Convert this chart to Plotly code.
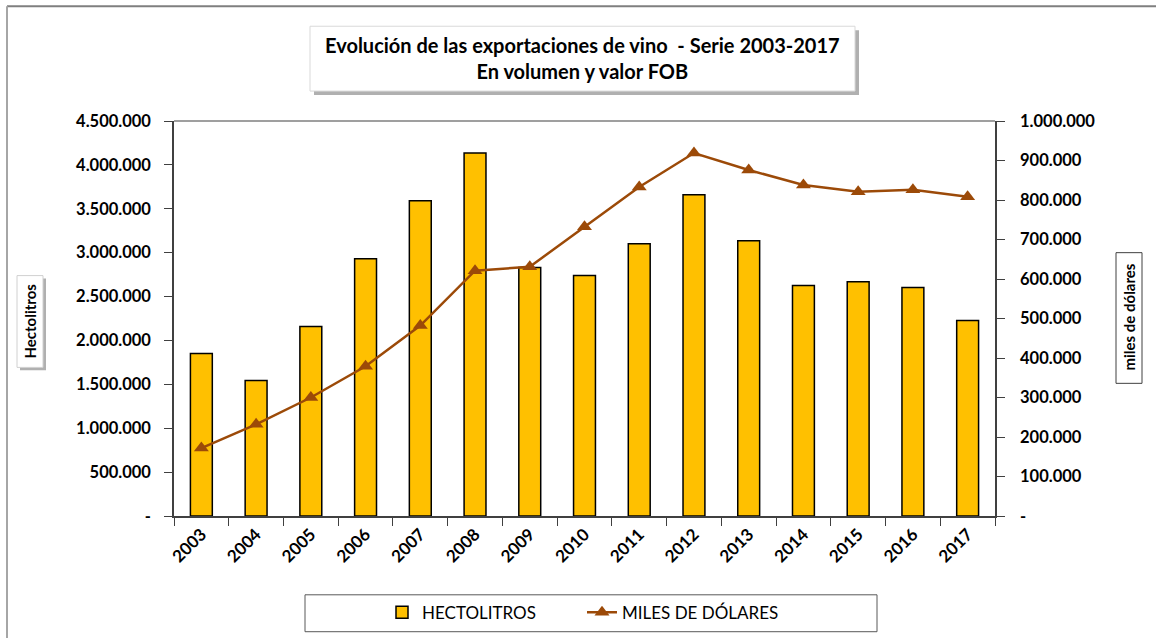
import plotly.graph_objects as go

years = ["2003", "2004", "2005", "2006", "2007", "2008", "2009", "2010",
         "2011", "2012", "2013", "2014", "2015", "2016", "2017"]
hectolitros = [1852000, 1545000, 2159000, 2932000, 3591000, 4136000, 2830000, 2739000,
               3102000, 3659000, 3136000, 2625000, 2670000, 2602000, 2227000]
miles_dolares = [172000, 232000, 300000, 379000, 482000, 621000, 631000, 732000,
                 833000, 919000, 876000, 838000, 821000, 826000, 808000]

y1_tickvals = [0, 500000, 1000000, 1500000, 2000000, 2500000, 3000000, 3500000, 4000000, 4500000]
y1_ticktext = ["-", "500.000", "1.000.000", "1.500.000", "2.000.000", "2.500.000",
               "3.000.000", "3.500.000", "4.000.000", "4.500.000"]
y2_tickvals = [0, 100000, 200000, 300000, 400000, 500000, 600000, 700000, 800000, 900000, 1000000]
y2_ticktext = ["-", "100.000", "200.000", "300.000", "400.000", "500.000", "600.000",
               "700.000", "800.000", "900.000", "1.000.000"]

W, H = 1156, 643
S = H / 638.0
L, R = 174, 995
T, B = 120 * S, 516 * S


def px(x):
    return (x - L) / (R - L)


def py(y):
    return (B - y * S) / (B - T)


FONT = "Lato"
BAR_COLOR = "#FFC000"
LINE_COLOR = "#9C4A08"
AXIS_COLOR = "#404040"

fig = go.Figure()
fig.add_trace(go.Bar(
    x=years, y=hectolitros, name="HECTOLITROS",
    marker=dict(color=BAR_COLOR, line=dict(color="#000000", width=1.5)),
    width=0.4, yaxis="y",
))
fig.add_trace(go.Scatter(
    x=years, y=miles_dolares, name="MILES DE DÓLARES", yaxis="y2",
    mode="lines+markers",
    line=dict(color=LINE_COLOR, width=2.5),
    marker=dict(symbol="triangle-up", size=13, color=LINE_COLOR),
))


def rect(x0, y0, x1, y1, fill, lc=None, lw=0):
    return dict(type="rect", xref="paper", yref="paper", x0=px(x0), x1=px(x1), y0=py(y0), y1=py(y1),
                fillcolor=fill, line=dict(color=lc or fill, width=lw), layer="below")


shapes = []
# outer frame lines (top and left)
shapes.append(dict(type="line", xref="paper", yref="paper", x0=px(7), x1=px(1156), y0=py(5), y1=py(5),
                   line=dict(color="#7f7f7f", width=2)))
shapes.append(dict(type="line", xref="paper", yref="paper", x0=px(7), x1=px(7), y0=py(5), y1=py(640),
                   line=dict(color="#a6a6a6", width=2)))
# title box shadow + box
shapes.append(rect(314, 29, 859, 94, "#b0b0b0"))
shapes.append(rect(310, 25, 855, 90, "white", "#d9d9d9", 1))
# left axis title box shadow + box
shapes.append(rect(20, 278, 46, 370, "#b0b0b0"))
shapes.append(rect(17, 275, 43, 367, "white", "#d0d0d0", 1))
# right axis title box
shapes.append(rect(1116, 252, 1142, 383, "white", "#404040", 1))
# legend box
shapes.append(rect(305, 595, 877, 632, "white", "#595959", 1))

annotations = [
    dict(text="<b>Evolución de las exportaciones de vino  - Serie 2003-2017<br>En volumen y valor FOB</b>",
         xref="paper", yref="paper", x=px(582), y=py(57), xanchor="center", yanchor="middle",
         showarrow=False, font=dict(family=FONT, size=20, color="#000000")),
    dict(text="<b>Hectolitros</b>", textangle=-90,
         xref="paper", yref="paper", x=px(30), y=py(321), xanchor="center", yanchor="middle",
         showarrow=False, font=dict(family=FONT, size=15, color="#000000")),
    dict(text="<b>miles de dólares</b>", textangle=-90,
         xref="paper", yref="paper", x=px(1129), y=py(317), xanchor="center", yanchor="middle",
         showarrow=False, font=dict(family=FONT, size=15, color="#000000")),
]

fig.update_layout(
    width=W, height=H,
    margin=dict(l=L, r=W - R, t=T, b=H - B),
    paper_bgcolor="white", plot_bgcolor="white",
    font=dict(family=FONT, size=14, color="#000000"),
    showlegend=True,
    legend=dict(orientation="h", x=px(582), y=py(613), xanchor="center", yanchor="middle",
                bgcolor="rgba(0,0,0,0)", borderwidth=0,
                font=dict(family=FONT, size=17, color="#000000"),
                entrywidth=155, entrywidthmode="pixels", traceorder="normal"),
    xaxis=dict(
        type="category", tickson="boundaries", ticks="outside", ticklen=8, tickcolor=AXIS_COLOR,
        showline=True, linecolor=AXIS_COLOR, linewidth=1.5, mirror=False,
        tickangle=-45, tickfont=dict(family=FONT, size=17, color="#000000"),
        ticktext=[f"<b>{y}</b>" for y in years], tickvals=years,
        showgrid=False, range=[-0.5, 14.5],
    ),
    yaxis=dict(
        range=[0, 4500000], tickvals=y1_tickvals, ticktext=[f"<b>{t}</b>" for t in y1_ticktext],
        ticks="outside", ticklen=8, tickcolor=AXIS_COLOR,
        showline=True, linecolor=AXIS_COLOR, linewidth=1.5,
        showgrid=False, zeroline=False, tickfont=dict(family=FONT, size=16.5, color="#000000"),
        ticklabelstandoff=10,
    ),
    yaxis2=dict(
        range=[0, 1000000], tickvals=y2_tickvals, ticktext=[f"<b>{t}</b>" for t in y2_ticktext],
        overlaying="y", side="right",
        ticks="outside", ticklen=8, tickcolor=AXIS_COLOR,
        showline=True, linecolor=AXIS_COLOR, linewidth=1.5,
        showgrid=False, zeroline=False, tickfont=dict(family=FONT, size=16.5, color="#000000"),
        ticklabelstandoff=12,
    ),
    shapes=shapes,
    annotations=annotations,
)
# top border of plot area
fig.add_shape(type="line", xref="paper", yref="paper", x0=0, x1=1, y0=1, y1=1,
              line=dict(color="#7f7f7f", width=1.5))

post = "document.body.style.margin='0';"
fig.write_html("out.html", config={"displayModeBar": False}, post_script=post)
